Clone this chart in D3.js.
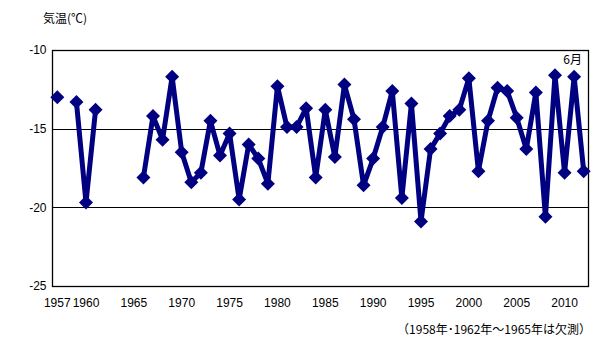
<!DOCTYPE html>
<html>
<head>
<meta charset="utf-8">
<script src="https://cdn.jsdelivr.net/npm/d3@7"></script>
<style>
  html, body { margin: 0; padding: 0; background: #fff; }
  svg { display: block; font-family: "Liberation Sans", "Noto Sans CJK JP", sans-serif; }
</style>
</head>
<body>
<svg id="chart" width="605" height="342"></svg>
<script>
// June mean temperature by year (null = not observed)
const years = d3.range(1957, 2013);
const temps = [
  -13.0, null, -13.3, -19.7, -13.8, null, null, null, null,
  -18.1, -14.2, -15.7, -11.7, -16.5, -18.4, -17.8, -14.5, -16.7,
  -15.3, -19.5, -16.0, -16.9, -18.5, -12.3, -14.9, -14.9, -13.7,
  -18.1, -13.8, -16.8, -12.2, -14.4, -18.6, -16.9, -14.9, -12.6,
  -19.4, -13.4, -20.9, -16.3, -15.3, -14.2, -13.8, -11.8, -17.7,
  -14.5, -12.4, -12.6, -14.3, -16.3, -12.7, -20.6, -11.6, -17.8,
  -11.7, -17.7
];
const yTicks = [-10, -15, -20, -25];
const xTickYears = [1957, 1960, 1965, 1970, 1975, 1980, 1985, 1990, 1995, 2000, 2005, 2010];
const yTitle = "気温(℃)";
const monthLabel = "6月";
const note = "（1958年･1962年～1965年は欠測）";

const svg = d3.select("#chart");
const plot = { left: 52.5, top: 50, right: 588.5, bottom: 286 };

const x = d3.scaleBand().domain(years).range([plot.left, plot.right]).paddingInner(0).paddingOuter(0);
const y = d3.scaleLinear().domain([-25, -10]).range([plot.bottom, plot.top]);
const cx = yr => x(yr) + x.bandwidth() / 2;

// horizontal gridlines
svg.append("g").selectAll("line").data(yTicks.filter(v => v > -25 && v < -10)).join("line")
  .attr("x1", plot.left).attr("x2", plot.right)
  .attr("y1", d => Math.round(y(d)) + 0.5).attr("y2", d => Math.round(y(d)) + 0.5)
  .attr("stroke", "#000").attr("stroke-width", 1);

// plot frame
svg.append("rect")
  .attr("x", plot.left).attr("y", plot.top + 0.5)
  .attr("width", plot.right - plot.left).attr("height", plot.bottom - plot.top)
  .attr("fill", "none").attr("stroke", "#000").attr("stroke-width", 1.3);

// y axis labels
const yAxis = d3.axisLeft(y).tickValues(yTicks).tickSize(0).tickPadding(6)
  .tickFormat(d => d3.format("")(d).replace("−", "-"));
const gy = svg.append("g").attr("transform", `translate(${plot.left},0)`).call(yAxis);
gy.select(".domain").remove();
gy.selectAll("text").attr("font-size", 12).attr("fill", "#000");

// x axis labels
const xAxis = d3.axisBottom(x).tickValues(xTickYears).tickSize(0).tickPadding(12);
const gx = svg.append("g").attr("transform", `translate(0,${plot.bottom})`).call(xAxis);
gx.select(".domain").remove();
gx.selectAll("text").attr("font-size", 12).attr("fill", "#000");

// series line (breaks where data are missing)
const pts = years.map((yr, i) => ({ yr, v: temps[i] }));
const line = d3.line().defined(d => d.v !== null).x(d => cx(d.yr)).y(d => y(d.v));
svg.append("path").datum(pts)
  .attr("d", line).attr("fill", "none")
  .attr("stroke", "#000080").attr("stroke-width", 5).attr("stroke-linejoin", "round");

// diamond markers
svg.append("g").selectAll("path").data(pts.filter(d => d.v !== null)).join("path")
  .attr("transform", d => `translate(${cx(d.yr)},${y(d.v)})`)
  .attr("d", "M0,-7L7,0L0,7L-7,0Z")
  .attr("fill", "#000080");

// titles
svg.append("text").attr("x", 43).attr("y", 23).attr("font-size", 12)
  .attr("font-family", "Noto Sans CJK JP").text(yTitle);
svg.append("text").attr("x", 582).attr("y", 64).attr("text-anchor", "end").attr("font-size", 12)
  .attr("font-family", "Noto Sans CJK JP").text(monthLabel);
svg.append("text").attr("x", 591).attr("y", 334).attr("text-anchor", "end").attr("font-size", 12)
  .attr("font-family", "Noto Sans CJK JP").text(note);
</script>
</body>
</html>
